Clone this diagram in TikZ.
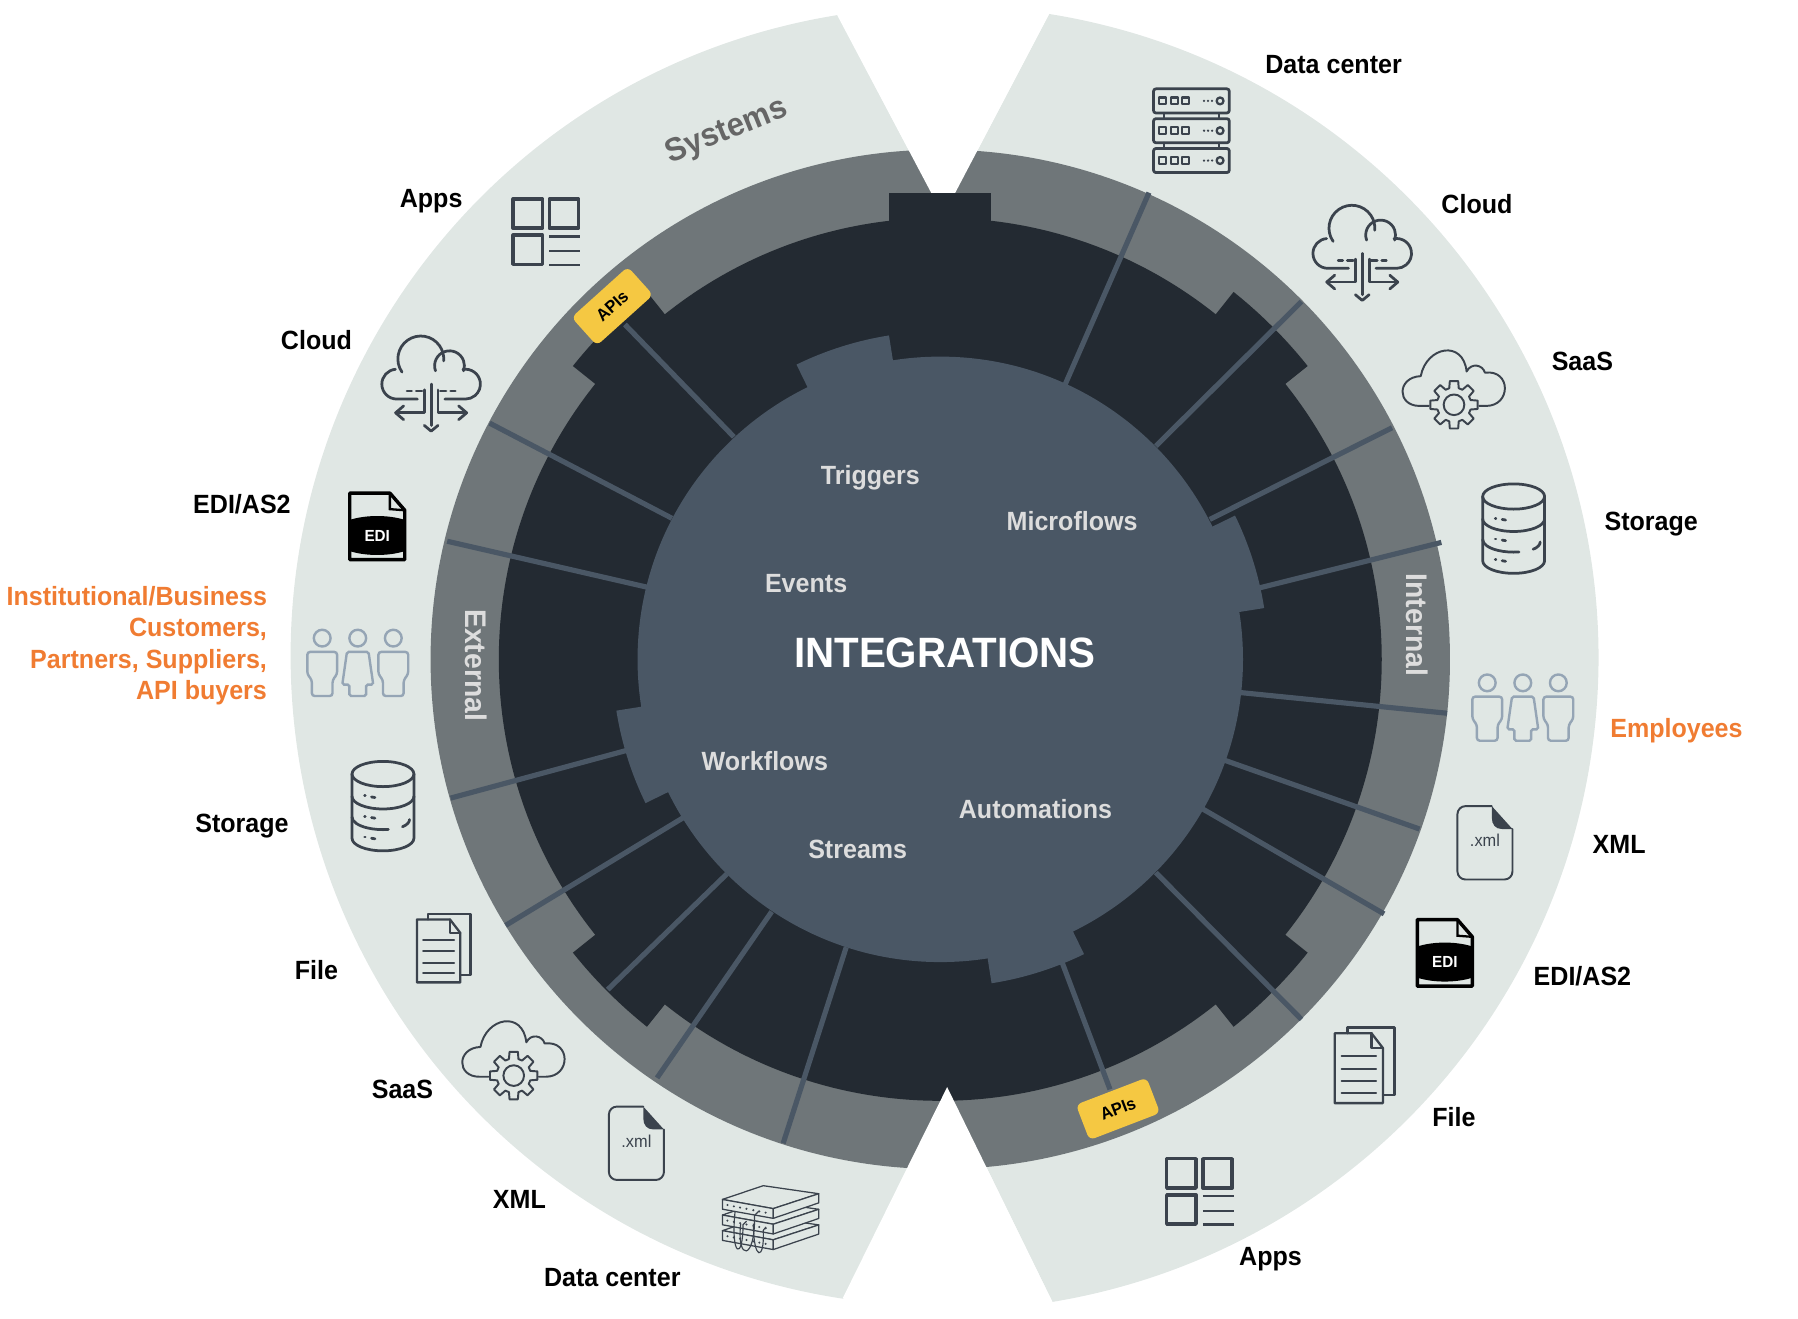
\documentclass[tikz,border=0pt]{standalone}
\usepackage{fontspec}
\setmainfont[FakeStretch=0.95]{Liberation Sans}
\definecolor{bandlight}{HTML}{E0E7E4}
\definecolor{bandgray}{HTML}{6F7679}
\definecolor{ringdark}{HTML}{232A32}
\definecolor{discblue}{HTML}{4A5765}
\definecolor{iconink}{HTML}{3B434D}
\definecolor{peopleink}{HTML}{95A5B5}
\definecolor{labelorange}{HTML}{F07C32}
\definecolor{badgeyellow}{HTML}{F5C842}
\definecolor{softtext}{HTML}{DDDDDD}
\tikzset{
  itemlabel/.style={font=\fontsize{23}{27.5}\selectfont\bfseries,inner sep=0pt,text=black},
  orangelabel/.style={itemlabel,text=labelorange,align=right},
  disclabel/.style={font=\fontsize{23}{27}\selectfont\bfseries,inner sep=0pt,text=softtext},
  bandlabel/.style={font=\fontsize{26}{30}\selectfont\bfseries,inner sep=0pt},
  apibadge/.style={fill=badgeyellow,rounded corners=5pt,minimum width=66pt,minimum height=33pt,inner sep=0pt,
    font=\fontsize{15}{15}\selectfont\bfseries,text=black},
  iconline/.style={draw=iconink,line width=2.4pt,line join=round,line cap=round},
  thinline/.style={draw=iconink,line width=1.7pt,line join=round,line cap=round},
  appsicon/.pic={
    \draw[iconline,line width=3pt] (-28.5,3) rectangle (-3,28.5);
    \draw[iconline,line width=3pt] (3,3) rectangle (28.5,28.5);
    \draw[iconline,line width=3pt] (-28.5,-28.5) rectangle (-3,-3);
    \draw[iconline,line cap=butt] (3,-4)-- (30,-4);
    \draw[iconline,line cap=butt] (3,-17)-- (30,-17);
    \draw[iconline,line cap=butt] (3,-29)-- (30,-29);
  },
  cloudicon/.pic={
    \draw[iconline] (-12,-15)-- (-30,-15) arc[start angle=270,end angle=95,radius=13];
    \draw[iconline] (-25.4,8.5) arc[start angle=215,end angle=-5,radius=20];
    \draw[iconline] (3.8,9.6) arc[start angle=200,end angle=-20,radius=13];
    \draw[iconline] (27.7,10.8) arc[start angle=100,end angle=-90,radius=13]-- (12,-15);
    \draw[iconline] (0,-2)-- (0,-38);
    \draw[iconline] (-6,-38)-- (0,-43)-- (6,-38);
    \draw[iconline] (-6,-7)-- (-6,-27)-- (-30,-27);
    \draw[iconline] (-24,-21)-- (-31,-27)-- (-24,-33);
    \draw[iconline] (6,-7)-- (6,-27)-- (30,-27);
    \draw[iconline] (24,-21)-- (31,-27)-- (24,-33);
    \draw[iconline] (-21,-8)-- (-17,-8);
    \draw[iconline] (-13,-8)-- (-8,-8);
    \draw[iconline] (8,-8)-- (13,-8);
    \draw[iconline] (17,-8)-- (21,-8);
  },
  saasicon/.pic={
    \draw[thinline] (-22,-14)-- (-30,-14) .. controls (-50,-14) and (-50,11) .. (-29,12)
      .. controls (-24,38) and (8,44) .. (11,16) .. controls (15,24) and (25,22) .. (27,15)
      .. controls (50,18) and (50,-14) .. (28,-14)-- (22,-14);
    \begin{scope}[shift={(0,-13)}]
      \draw[thinline] (-10:21) \foreach \a in {0,45,...,315} {-- (\a+10:21)-- (\a+16:15)-- (\a+29:15)-- (\a+35:21)}-- cycle;
      \draw[thinline] (0,0) circle (9);
    \end{scope}
  },
  storageicon/.pic={
    \draw[iconline] (0,28) ellipse [x radius=27,y radius=11];
    \draw[iconline] (-27,28)-- (-27,-28) arc[start angle=180,end angle=360,x radius=27,y radius=11]-- (27,28);
    \draw[iconline] (-27,8.5) arc[start angle=180,end angle=360,x radius=27,y radius=11];
    \draw[iconline] (-27,-9.5) arc[start angle=180,end angle=280,x radius=27,y radius=11];
    \draw[iconline] (17,-18) arc[start angle=-52,end angle=0,x radius=16,y radius=8];
    \foreach \o in {0,18,36} {
      \draw[iconline] (-16,9-\o)-- (-15.5,9-\o);
      \draw[iconline] (-10,8-\o)-- (-7,7.5-\o);
    }
  },
  ediicon/.pic={
    \begin{scope}
      \clip (-24,-29) rectangle (24,29);
      \fill[black] (0,-8) ellipse [x radius=40,y radius=17];
    \end{scope}
    \draw[black,line width=3pt,line join=round] (11,29)-- (-24,29)-- (-24,-29)-- (24,-29)-- (24,14)-- cycle;
    \draw[black,line width=2pt] (11,29)-- (11,15)-- (24,14);
    \node[text=white,inner sep=0pt,font=\fontsize{14}{14}\selectfont\bfseries] (txt) at (0,-8) {EDI};
  },
  xmlicon/.pic={
    \draw[thinline,rounded corners=7pt] (6,32)-- (-24,32)-- (-24,-32)-- (24,-32)-- (24,12);
    \fill[iconink] (6,32)-- (24,12)-- (15,12) .. controls (9,12) and (6,16) .. (6,22)-- cycle;
    \node[text=iconink,inner sep=0pt,font=\fontsize{15}{15}\selectfont] (txt) at (0,2) {.xml};
  },
  fileicon/.pic={
    \draw[thinline,line width=2pt] (-15,28)-- (-15,33)-- (26,33)-- (26,-26)-- (16,-26);
    \draw[thinline,line width=2pt] (6,28)-- (-26,28)-- (-26,-33)-- (16,-33)-- (16,15)-- cycle;
    \draw[thinline,line width=2pt] (6,28)-- (6,15)-- (16,15);
    \foreach \o in {8,-3,-14,-24}
      \draw[thinline] (-20,\o)-- (10,\o);
  },
  peopleicon/.pic={
    \foreach \o in {-31,0,31}
      \draw[peopleink,line width=2.1pt] (\o,21.5) circle (7.3);
    \foreach \o in {-31,31}
      \draw[peopleink,line width=2.1pt,rounded corners=2.5pt,xshift=\o] (-9,-29)-- (-9,-15)-- (-13,-10)-- (-13,9.5)-- (13,9.5)-- (13,-10)-- (9,-15)-- (9,-29)-- cycle;
    \draw[peopleink,line width=2.1pt,rounded corners=1.5pt] (-7.3,-29)-- (-7.3,-19)-- (-13.5,-19)-- (-9.4,9.5)-- (9.4,9.5)-- (13.5,-19)-- (7.3,-19)-- (7.3,-29)-- cycle;
  },
  serverrack/.pic={
    \foreach \y in {26,0,-26} {
      \draw[iconline,rounded corners=2pt] (-33,\y-10.5) rectangle (33,\y+10.5);
      \foreach \o in {-28,-18,-8}
        \draw[iconline,line width=2pt] (\o,\y-3) rectangle (\o+6,\y+3);
      \fill[iconink] (11,\y) circle (1.1) (14.5,\y) circle (1.1) (18,\y) circle (1.1);
      \draw[iconline,line width=2pt] (25,\y) circle (3);
    }
    \foreach \y in {13,-13} {
      \draw[iconline,line width=2pt] (-24,\y-2.5)-- (-24,\y+2.5);
      \draw[iconline,line width=2pt] (24,\y-2.5)-- (24,\y+2.5);
    }
  },
  stackicon/.pic={
    \foreach \o in {-27.2,-13.6,0} {
      \begin{scope}[yshift=\o pt]
        \filldraw[fill=bandlight,draw=iconink,line width=1.1pt,line join=round] (-42,18)-- (-6.4,30)-- (42,23)-- (2.3,10)-- cycle;
        \filldraw[fill=bandlight,draw=iconink,line width=1.1pt,line join=round] (-42,18)-- (-42,9.5)-- (2.3,1.5)-- (2.3,10)-- cycle;
        \filldraw[fill=bandlight,draw=iconink,line width=1.1pt,line join=round] (2.3,10)-- (2.3,1.5)-- (42,15)-- (42,23)-- cycle;
        \foreach \d in {-37.6,-32,-26.6,-21,-15,-9.8,-4.3}
          \fill[iconink] (\d,{14-(\d+42)*0.2}) circle (1);
      \end{scope}
    }
    \draw[iconink,line width=1pt] (-31,7) .. controls (-35,-32) and (-24,-36) .. (-24,-4)-- (-21,-1);
    \draw[iconink,line width=1pt] (-26,-3) .. controls (-30,-36) and (-13,-36) .. (-14,4)-- (-10,8);
    \draw[iconink,line width=1pt] (-15,-3) .. controls (-15,-36) and (-5,-36) .. (-6.4,-9)-- (-4,-6);
  }
}
\begin{document}
\begin{tikzpicture}[line cap=butt,line join=miter,x=1pt,y=1pt]
\useasboundingbox (-820,-574.4) rectangle (748,575);
% bands
\fill[bandlight] (0,2.5) ++(99.1:566.5) arc[start angle=99.1,end angle=261.4,radius=566.5]-- (6,-373)-- (2.6,387)-- cycle;
\fill[bandlight] (5,1) ++(80.9:569) arc[start angle=80.9,end angle=-80.6,radius=569]-- (6,-373)-- (2.6,387)-- cycle;
\fill[bandgray] (0,0) circle (444.5);
\fill[white] (-90,562)-- (2.6,387)-- (95,563)-- cycle;
% dark ring
\fill[ringdark] (0,0) circle (385);
\fill[ringdark] (-45,380)-- (-45,407)-- (44,407)-- (44,380)-- cycle;
\foreach \ang in {45,135,225,315}
  \fill[ringdark] (\ang-6.4:380)-- (\ang-6.4:410) arc[start angle=\ang-6.4,end angle=\ang+6.4,radius=410]-- (\ang+6.4:380)-- cycle;
% spokes
\foreach \xa/\ya/\xb/\yb in {-180/194/-275/292,-234/123/-393/206,-256/63/-430/103,-272/-79/-427/-121,
  -224/-138/-379/-232,-186/-187/-290/-288,-147/-220/-247/-365,-82/-251/-137/-422,
  109/240/182/407,188/186/315/312,235/122/394/202,277/62/437/102,
  262/-29/442/-47,248/-88/418/-148,228/-130/387/-222,188/-186/315/-314,105/-261/148/-375}
  \draw[discblue,line width=4.5pt] (\xa,\ya)-- (\xb,\yb);
\fill[white] (-85,-557)-- (6,-373)-- (98,-561)-- cycle;
% disc
\fill[discblue] (0,0) circle (264);
\foreach \ang in {107.5,17.5,-72.5,-162.5}
  \fill[discblue] (\ang-8.5:260)-- (\ang-8.5:286) arc[start angle=\ang-8.5,end angle=\ang+8.5,radius=286]-- (\ang+8.5:260)-- cycle;
% badges
\node[apibadge,rotate=42] (apisup) at (-286,308) {APIs};
\node[apibadge,rotate=21] (apisdown) at (155,-392) {APIs};
% disc texts
\draw (4,6) node[text=white,font=\fontsize{37}{37}\selectfont\bfseries,inner sep=0pt] (title) {INTEGRATIONS};
\draw (-61,158) node[disclabel] (triggers) {Triggers};
\draw (115,121) node[disclabel] (microflows) {Microflows};
\draw (-117,66) node[disclabel] (events) {Events};
\draw (-153,-89) node[disclabel] (workflows) {Workflows};
\draw (83,-131) node[disclabel] (automations) {Automations};
\draw (-72,-166) node[disclabel] (streams) {Streams};
% band texts
\draw (-186,460) node[bandlabel,font=\fontsize{28.5}{30}\selectfont\bfseries,text=black!60,rotate=22] (systems) {Systems};
\draw (-405,-5) node[bandlabel,text=softtext,rotate=-90] (external) {External};
\draw (416,30) node[bandlabel,text=softtext,rotate=-90] (internal) {Internal};
% icons
\pic (appsa) at (-344,373) {appsicon};
\pic (appsb) at (226,-464) {appsicon};
\pic (clouda) at (-444,242) {cloudicon};
\pic (cloudb) at (368,356) {cloudicon};
\pic (saasa) at (448,235) {saasicon};
\pic (saasb) at (-372,-350) {saasicon};
\pic (storea) at (500,114) {storageicon};
\pic (storeb) at (-486,-128) {storageicon};
\pic (edia) at (-491,116) {ediicon};
\pic (edib) at (440,-256) {ediicon};
\pic (xmla) at (-265,-422) {xmlicon};
\pic (xmlb) at (475,-160) {xmlicon};
\pic[scale=.9] (filea) at (-433,-252) {fileicon};
\pic (fileb) at (370,-354) {fileicon};
\pic (peoplea) at (-508,-3) {peopleicon};
\pic (peopleb) at (508,-42) {peopleicon};
\pic (racka) at (219,461) {serverrack};
\pic (rackb) at (-148,-489) {stackicon};
% labels right
\draw (343,519) node[itemlabel] (lbldatab) {Data center};
\draw (468,397) node[itemlabel] (lblcloudb) {Cloud};
\draw (560,260) node[itemlabel] (lblsaasb) {SaaS};
\draw (620,118) node[itemlabel] (lblstoreb) {Storage};
\draw (642,-62) node[orangelabel] (lblstaff) {Employees};
\draw (592,-161) node[itemlabel] (lblxmlb) {XML};
\draw (560,-276) node[itemlabel] (lbledib) {EDI/AS2};
\draw (448,-399) node[itemlabel] (lblfileb) {File};
\draw (288,-523) node[itemlabel] (lblappsb) {Apps};
% labels left
\draw (-444,400) node[itemlabel] (lblappsa) {Apps};
\draw (-544,278) node[itemlabel] (lblclouda) {Cloud};
\draw (-609,135) node[itemlabel] (lbledia) {EDI/AS2};
\draw (-587,12) node[orangelabel,anchor=east] (lblbuyers) {Institutional/Business\\Customers,\\Partners, Suppliers,\\API buyers};
\draw (-609,-145) node[itemlabel] (lblstorea) {Storage};
\draw (-544,-271) node[itemlabel] (lblfilea) {File};
\draw (-469,-375) node[itemlabel] (lblsaasa) {SaaS};
\draw (-367,-471) node[itemlabel] (lblxmla) {XML};
\draw (-286,-539) node[itemlabel] (lbldataa) {Data center};
\end{tikzpicture}
\end{document}
